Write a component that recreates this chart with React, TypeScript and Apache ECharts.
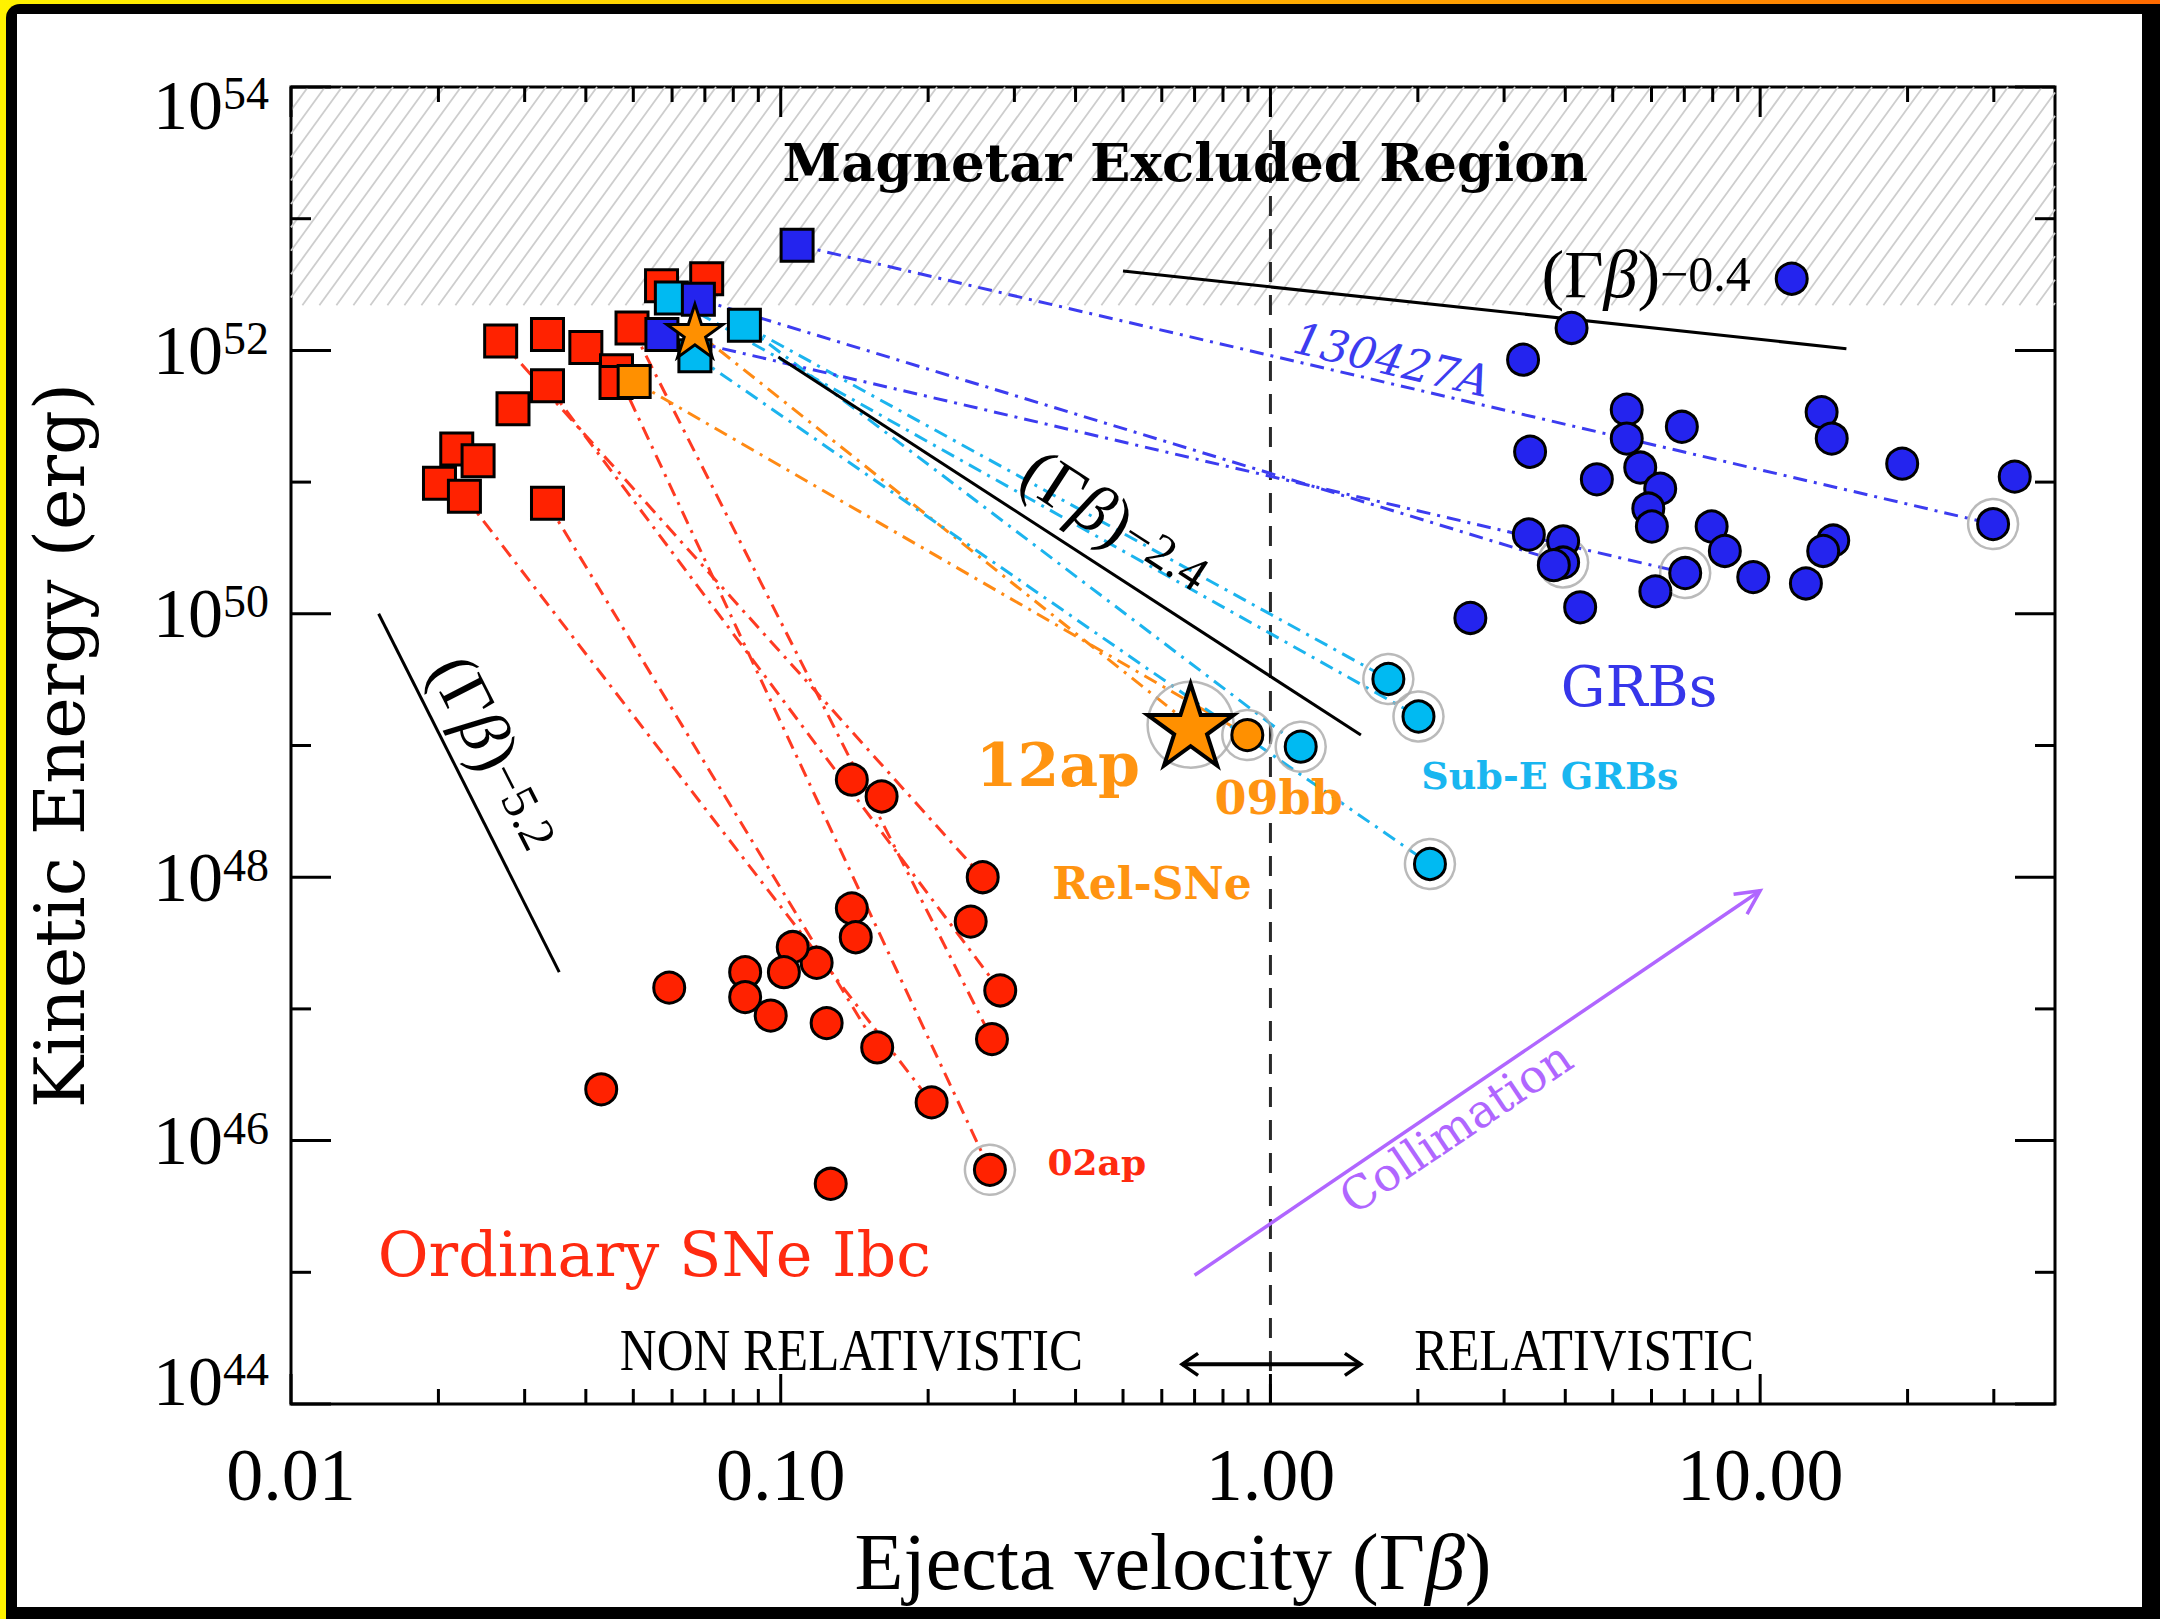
import React, { useEffect, useRef } from 'react';
import * as echarts from 'echarts';

type Pt = [number, number];

// ---- axes -----------------------------------------------------------------
const X_MIN = 0.01;
const X_MAX = 40;
const Y_MIN = 1e44;
const Y_MAX = 1e54;

const xTickLabels = ['0.01', '0.10', '1.00', '10.00'];
const xDecades = [0.01, 0.1, 1, 10];
const xMinorSteps = [2, 3, 4, 5, 6, 7, 8, 9];
const yExponents = [44, 45, 46, 47, 48, 49, 50, 51, 52, 53, 54];
const yLabelExponents = [44, 46, 48, 50, 52, 54];

// lower edge of the magnetar-excluded band (erg)
const MAGNETAR_LIMIT = 2.2e52;

// ---- Ordinary SNe Ibc -------------------------------------------------------
const sneSquares: Pt[] = [
  [0.0268, 1.18e52], [0.0334, 1.32e52], [0.04, 1.05e52], [0.0462, 7.0e51],
  [0.0461, 5.7e51], [0.0497, 1.48e52], [0.0334, 5.4e51], [0.0284, 3.6e51],
  [0.0218, 1.78e51], [0.0241, 1.45e51], [0.0201, 9.8e50], [0.0226, 7.8e50],
  [0.0334, 6.9e50], [0.0706, 3.5e52], [0.0571, 3.1e52],
];
const sneCircles: Pt[] = [
  [0.1397, 5.5e48], [0.1607, 4.1e48], [0.2585, 1.0e48], [0.2443, 4.6e47],
  [0.1397, 5.8e47], [0.1423, 3.5e47], [0.2807, 1.38e47], [0.27, 5.9e46],
  [0.2033, 1.95e46], [0.2674, 6.0e45], [0.1574, 5.1e46], [0.1241, 7.8e46],
  [0.1184, 2.24e47], [0.1058, 2.95e47], [0.1015, 1.9e47], [0.0846, 1.9e47],
  [0.0846, 1.23e47], [0.0954, 8.9e46], [0.0592, 1.45e47], [0.043, 2.45e46],
  [0.1265, 4.7e45],
];
// [square index, circle index]
const sneTracks: [number, number][] = [[11, 8], [12, 10], [3, 9], [5, 7], [6, 6], [0, 2]];
const SN02AP = 9;

// ---- relativistic SNe -------------------------------------------------------
const relSquares: Pt[] = [[0.0502, 5.8e51]];
const relFastStar: Pt[] = [[0.0668, 1.41e52]];
const relCircles: Pt[] = [[0.897, 1.2e49]]; // 09bb
const sn12ap: Pt[] = [[0.687, 1.44e49]];

// ---- sub-energetic GRBs -----------------------------------------------------
const subSquares: Pt[] = [[0.0598, 2.5e52], [0.0843, 1.55e52], [0.0668, 9.1e51]];
const subCircles: Pt[] = [[1.153, 9.8e48], [1.741, 3.2e49], [2.006, 1.66e49], [2.117, 1.26e48]];
const subTracks: [number, number][] = [[0, 2], [1, 1], [1, 0], [2, 3]];

// ---- GRBs -------------------------------------------------------------------
const grbSquares: Pt[] = [[0.108, 6.3e52], [0.0679, 2.45e52], [0.0572, 1.32e52]];
const grbCircles: Pt[] = [
  [4.12, 1.48e52], [3.28, 8.5e51], [5.34, 3.55e51], [6.92, 2.63e51], [5.34, 2.14e51],
  [3.39, 1.7e51], [4.64, 1.05e51], [5.69, 1.29e51], [6.25, 8.9e50], [5.91, 6.3e50],
  [6.01, 4.6e50], [3.37, 4.0e50], [3.96, 3.55e50], [3.96, 2.45e50], [3.79, 2.34e50],
  [7.96, 4.6e50], [8.47, 3.0e50], [7.03, 2.04e50], [6.11, 1.48e50], [4.29, 1.12e50],
  [2.56, 9.3e49], [9.68, 1.9e50], [11.6, 3.5e52], [13.35, 3.4e51], [14.0, 2.14e51],
  [19.5, 1.38e51], [33.1, 1.1e51], [29.9, 4.8e50], [14.1, 3.6e50], [13.45, 3.0e50],
  [12.4, 1.7e50],
];
const grbTracks: [number, number][] = [[0, 27], [1, 13], [2, 17]];

// ---- power-law guides -------------------------------------------------------
const guide04: Pt[] = [[0.5, 4.0e52], [15, 1.03e52]];
const guide24: Pt[] = [[0.0989, 8.9e51], [1.53, 1.2e49]];
const guide52: Pt[] = [[0.0151, 1.0e50], [0.0353, 1.9e47]];

// ---- annotation arrows ------------------------------------------------------
const collimationArrow: Pt[] = [[0.7, 9.5e44], [10.0, 7.9e47]];
const regimeArrow: Pt[] = [[0.66, 2.0e44], [1.53, 2.0e44]];

// ---- colours ----------------------------------------------------------------
const RED = '#ff2200';
const ORANGE = '#ff9000';
const CYAN = '#00baf2';
const BLUE = '#2424ee';
const PURPLE = '#b066ff';

const STAR =
  'path://M50,0 L61.2,34.5 L97.6,34.5 L68.2,55.9 L79.4,90.5 L50,69.1 L20.6,90.5 L31.8,55.9 L2.4,34.5 L38.8,34.5 Z';

const DASH_DOT = [14, 7, 3, 7];

const CHART_W = 2125;
const CHART_H = 1593;
const GRID = { left: 274, top: 73, width: 1764, height: 1321 };

const SERIF = 'Liberation Serif';
const SLAB = 'DejaVu Serif';

function scatter(data: Pt[], symbol: string, size: number, color: string, z: number, border = 3) {
  return {
    type: 'scatter',
    data,
    symbol,
    symbolSize: size,
    symbolKeepAspect: true,
    z,
    silent: true,
    itemStyle: { color, borderColor: '#000', borderWidth: border, opacity: 1 },
  };
}

function segment(from: Pt, to: Pt, color: string, z: number, type: any = DASH_DOT, width = 3) {
  return {
    type: 'line',
    data: [from, to],
    symbol: 'none',
    silent: true,
    z,
    lineStyle: { color, width, type },
  };
}

function rings(data: Pt[], size: number) {
  return {
    type: 'scatter',
    data,
    symbol: 'circle',
    symbolSize: size,
    z: 3,
    silent: true,
    itemStyle: { color: 'rgba(255,255,255,0)', borderColor: '#a9a9a9', borderWidth: 2.5 },
  };
}

function buildOption() {
  const tickData: number[][] = [];
  xDecades.forEach((d) => {
    tickData.push([d, Y_MIN, 0, 1]);
    xMinorSteps.forEach((m) => {
      if (d * m < X_MAX) tickData.push([d * m, Y_MIN, 0, 0]);
    });
  });
  yExponents.forEach((e) => tickData.push([X_MIN, Math.pow(10, e), 1, e % 2 === 0 ? 1 : 0]));

  const ringed: Pt[] = [
    sneCircles[SN02AP],
    ...subCircles,
    ...relCircles,
    ...grbTracks.map(([, c]) => grbCircles[c]),
  ];

  const series: any[] = [];

  // hatched band above the magnetar energy limit
  series.push({
    type: 'custom',
    data: [[X_MIN, MAGNETAR_LIMIT]],
    z: 1,
    silent: true,
    clip: false,
    renderItem: (params: any, api: any) => {
      const cs = params.coordSys;
      const bottom = api.coord([api.value(0), api.value(1)])[1];
      const top = cs.y;
      const left = cs.x;
      const right = cs.x + cs.width;
      const m = Math.tan((54 * Math.PI) / 180);
      const step = 17 * m;
      const children: any[] = [];
      for (let c = top + m * left; c < bottom + m * right; c += step) {
        const xa = Math.max(left, (c - bottom) / m);
        const xb = Math.min(right, (c - top) / m);
        if (xb <= xa) continue;
        children.push({
          type: 'line',
          shape: { x1: xa, y1: c - m * xa, x2: xb, y2: c - m * xb },
          style: { stroke: '#cdcdcd', lineWidth: 1.8 },
        });
      }
      return { type: 'group', children };
    },
  });

  // Γβ = 1 divide
  series.push(segment([1, Y_MIN], [1, Y_MAX], '#2a2a2a', 2, [20, 13], 3));

  // tracks
  sneTracks.forEach(([s, c]) => series.push(segment(sneSquares[s], sneCircles[c], '#ff3a22', 2)));
  series.push(segment(relFastStar[0], sn12ap[0], '#ff8a14', 2));
  series.push(segment(relSquares[0], relCircles[0], '#ff8a14', 2));
  subTracks.forEach(([s, c]) => series.push(segment(subSquares[s], subCircles[c], '#1cb4ee', 2)));
  grbTracks.forEach(([s, c]) => series.push(segment(grbSquares[s], grbCircles[c], '#3c3cf0', 2)));

  // power-law guides
  [guide04, guide24, guide52].forEach((g) => series.push(segment(g[0], g[1], '#000', 3, 'solid', 3)));

  // rings around the late-time points
  series.push(rings(ringed, 50));
  series.push(rings(sn12ap, 86));

  // markers
  series.push(scatter(sneSquares, 'rect', 32, RED, 4));
  series.push(scatter(relSquares, 'rect', 32, ORANGE, 5));
  series.push(scatter(subSquares, 'rect', 32, CYAN, 6));
  series.push(scatter(grbSquares, 'rect', 32, BLUE, 7));
  series.push(scatter(relFastStar, STAR, 56, ORANGE, 8));
  series.push(scatter(sneCircles, 'circle', 31, RED, 4));
  series.push(scatter(grbCircles, 'circle', 31, BLUE, 4));
  series.push(scatter(subCircles, 'circle', 31, CYAN, 5));
  series.push(scatter(relCircles, 'circle', 31, ORANGE, 5));
  series.push(scatter(sn12ap, STAR, 86, ORANGE, 8, 4));

  // inward ticks on all four sides
  series.push({
    type: 'custom',
    data: tickData,
    z: 10,
    silent: true,
    clip: false,
    renderItem: (params: any, api: any) => {
      const cs = params.coordSys;
      const p = api.coord([api.value(0), api.value(1)]);
      const major = api.value(3) === 1;
      const style = { stroke: '#000', lineWidth: 3 };
      if (api.value(2) === 0) {
        const len = major ? 30 : 15;
        const x = p[0];
        const yb = cs.y + cs.height;
        const yt = cs.y;
        return {
          type: 'group',
          children: [
            { type: 'line', shape: { x1: x, y1: yb, x2: x, y2: yb - len }, style },
            { type: 'line', shape: { x1: x, y1: yt, x2: x, y2: yt + len }, style },
          ],
        };
      }
      const len = major ? 40 : 20;
      const y = p[1];
      const xl = cs.x;
      const xr = cs.x + cs.width;
      return {
        type: 'group',
        children: [
          { type: 'line', shape: { x1: xl, y1: y, x2: xl + len, y2: y }, style },
          { type: 'line', shape: { x1: xr, y1: y, x2: xr - len, y2: y }, style },
        ],
      };
    },
  });

  const yBase = { fontFamily: SERIF, fontSize: 70, color: '#000' };
  const ySup = { fontFamily: SERIF, fontSize: 46, color: '#000', verticalAlign: 'top' };

  return {
    animation: false,
    backgroundColor: '#ffffff',
    grid: { ...GRID, show: true, borderColor: '#000', borderWidth: 3, backgroundColor: 'transparent' },
    xAxis: {
      type: 'log',
      logBase: 10,
      min: X_MIN,
      max: X_MAX,
      axisLine: { show: false },
      axisTick: { show: false },
      splitLine: { show: false },
      axisLabel: {
        formatter: (v: number) => xTickLabels[Math.round(Math.log10(v)) + 2] ?? '',
        fontFamily: SERIF,
        fontSize: 74,
        color: '#000',
        margin: 34,
        showMaxLabel: false,
      },
      name: 'Ejecta velocity (Γ{i|β})',
      nameLocation: 'middle',
      nameGap: 118,
      nameTextStyle: {
        fontFamily: SERIF,
        fontSize: 80,
        color: '#000',
        rich: { i: { fontFamily: SERIF, fontSize: 80, fontStyle: 'italic', color: '#000' } },
      },
    },
    yAxis: {
      type: 'log',
      logBase: 10,
      min: Y_MIN,
      max: Y_MAX,
      axisLine: { show: false },
      axisTick: { show: false },
      splitLine: { show: false },
      axisLabel: {
        formatter: (v: number) => {
          const e = Math.round(Math.log10(v));
          if (!yLabelExponents.includes(e)) return '';
          if (e === 54) return `{bt|10}{st|${e}}`;
          if (e === 44) return `{bb|10}{s|${e}}`;
          return `{b|10}{s|${e}}`;
        },
        margin: 22,
        rich: {
          b: yBase,
          s: ySup,
          bt: { ...yBase, padding: [36, 0, 0, 0] },
          st: { ...ySup, padding: [36, 0, 0, 0] },
          bb: { ...yBase, padding: [0, 0, 46, 0] },
        },
      },
      name: 'Kinetic Energy (erg)',
      nameLocation: 'middle',
      nameGap: 196,
      nameTextStyle: { fontFamily: SLAB, fontSize: 70, color: '#000' },
    },
    series,
  };
}

function powerRich(base: number, sup: number) {
  return {
    p: { fontFamily: SERIF, fontSize: base },
    g: { fontFamily: SERIF, fontSize: base, fontStyle: 'italic' },
    s: { fontFamily: SERIF, fontSize: sup, verticalAlign: 'middle' },
  };
}
const power = (exp: string) => `{p|(Γ}{g|β}{p|)}{s|${exp}}`;

const deg = (d: number) => (d * Math.PI) / 180;

export default function App() {
  const ref = useRef<HTMLDivElement>(null);

  useEffect(() => {
    if (!ref.current) return;
    const chart = echarts.init(ref.current, undefined, { renderer: 'svg' });
    chart.setOption(buildOption() as any);

    const px = (p: Pt) => chart.convertToPixel({ gridIndex: 0 }, p) as unknown as number[];

    const text = (at: Pt, content: string, fill: string, o: any = {}) => {
      const [x, y] = px(at);
      return {
        type: 'text',
        x,
        y,
        z: 50,
        silent: true,
        rotation: o.rotation ?? 0,
        scaleX: o.scaleX ?? 1,
        style: {
          text: content,
          font: o.font,
          fill,
          align: 'center',
          verticalAlign: 'middle',
          textAlign: 'center',
          textVerticalAlign: 'middle',
          rich: o.rich,
        },
      };
    };

    const head = (tip: number[], from: number[], len: number, half: number) => {
      const dx = tip[0] - from[0];
      const dy = tip[1] - from[1];
      const l = Math.hypot(dx, dy);
      const ux = dx / l;
      const uy = dy / l;
      return [
        [tip[0] - ux * len - uy * half, tip[1] - uy * len + ux * half],
        tip,
        [tip[0] - ux * len + uy * half, tip[1] - uy * len - ux * half],
      ];
    };

    const c0 = px(collimationArrow[0]);
    const c1 = px(collimationArrow[1]);
    const r0 = px(regimeArrow[0]);
    const r1 = px(regimeArrow[1]);

    const elements: any[] = [
      text([0.67, 2.7e53], 'Magnetar Excluded Region', '#000', { font: `bold 53px ${SLAB}` }),
      text([5.85, 3.8e52], power('−0.4'), '#000', { rich: powerRich(68, 50) }),
      text([1.77, 8.5e51], '130427A', '#3c3cf0', { font: `italic 44px ${SLAB}`, rotation: deg(-13.2) }),
      text([0.484, 5.0e50], power('−2.4'), '#000', { rich: powerRich(68, 50), rotation: deg(-33) }),
      text([0.0262, 8.8e48], power('−5.2'), '#000', { rich: powerRich(68, 50), rotation: deg(-63) }),
      text([5.66, 2.8e49], 'GRBs', '#3636ea', { font: `56px ${SLAB}` }),
      text([3.72, 5.9e48], 'Sub-E GRBs', '#19b6f0', { font: `bold 38px ${SLAB}` }),
      text([0.368, 7.1e48], '12ap', '#ff9411', { font: `bold 60px ${SLAB}` }),
      text([1.04, 4.0e48], '09bb', '#ff9411', { font: `bold 46px ${SLAB}` }),
      text([0.573, 8.9e47], 'Rel-SNe', '#ff9411', { font: `bold 44px ${SLAB}` }),
      text([0.442, 6.9e45], '02ap', '#ff2a10', { font: `bold 36px ${SLAB}` }),
      text([0.0552, 1.37e45], 'Ordinary SNe Ibc', '#ff2a10', { font: `62px ${SLAB}` }),
      text([0.1394, 2.6e44], 'NON RELATIVISTIC', '#000', { font: `60px ${SERIF}`, scaleX: 0.85 }),
      text([4.37, 2.6e44], 'RELATIVISTIC', '#000', { font: `60px ${SERIF}`, scaleX: 0.85 }),
      text([2.39, 1.26e46], 'Collimation', PURPLE, { font: `46px ${SLAB}`, rotation: deg(34) }),
      {
        type: 'line',
        z: 50,
        silent: true,
        shape: { x1: c0[0], y1: c0[1], x2: c1[0], y2: c1[1] },
        style: { stroke: PURPLE, lineWidth: 3.5 },
      },
      {
        type: 'polyline',
        z: 50,
        silent: true,
        shape: { points: head(c1, c0, 24, 12) },
        style: { stroke: PURPLE, lineWidth: 3.5, fill: 'none' },
      },
      {
        type: 'line',
        z: 50,
        silent: true,
        shape: { x1: r0[0], y1: r0[1], x2: r1[0], y2: r1[1] },
        style: { stroke: '#000', lineWidth: 4 },
      },
      {
        type: 'polyline',
        z: 50,
        silent: true,
        shape: { points: head(r1, r0, 16, 11) },
        style: { stroke: '#000', lineWidth: 3.5, fill: 'none' },
      },
      {
        type: 'polyline',
        z: 50,
        silent: true,
        shape: { points: head(r0, r1, 16, 11) },
        style: { stroke: '#000', lineWidth: 3.5, fill: 'none' },
      },
    ];

    chart.setOption({ graphic: { elements } } as any);

    return () => chart.dispose();
  }, []);

  return (
    <div
      style={{
        position: 'fixed',
        left: 0,
        top: 0,
        width: 2160,
        height: 1619,
        overflow: 'hidden',
        background: 'linear-gradient(90deg, #fff200 0%, #ffc400 45%, #ff6a00 100%)',
      }}
    >
      <div
        style={{
          position: 'absolute',
          left: 6,
          top: 4,
          right: 0,
          bottom: 0,
          background: '#000',
          borderTopLeftRadius: 14,
        }}
      >
        <div
          ref={ref}
          style={{ position: 'absolute', left: 11, top: 10, width: CHART_W, height: CHART_H, background: '#fff' }}
        />
      </div>
    </div>
  );
}
